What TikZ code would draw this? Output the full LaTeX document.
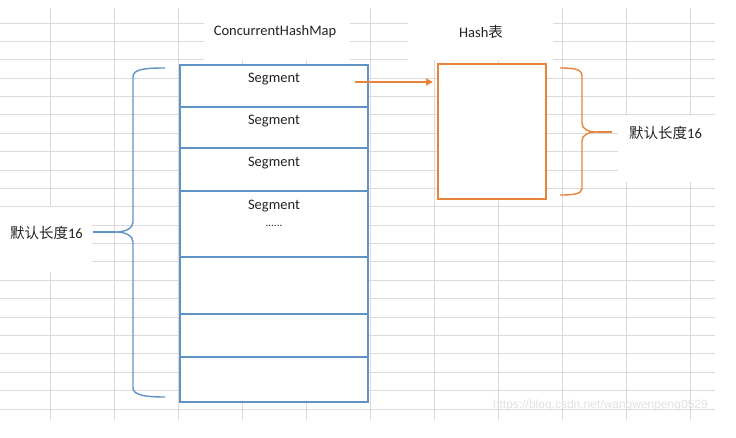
\documentclass[tikz,border=0pt]{standalone}
\usepackage{fontspec}
\setmainfont{Carlito}
\newfontfamily\cjk{Noto Sans CJK SC}
\newfontfamily\wmfont{Liberation Sans}
\usetikzlibrary{arrows.meta}
\definecolor{gridc}{RGB}{218,218,218}
\definecolor{boxblue}{RGB}{96,146,198}
\definecolor{orng}{RGB}{232,131,60}
\definecolor{txt}{RGB}{35,35,35}
\definecolor{wm}{RGB}{226,226,226}
\tikzset{
  cell/.style={draw=boxblue, line width=1.4pt, fill=white, minimum width=188pt, inner sep=0pt, outer sep=0pt},
  hashbox/.style={draw=orng, line width=1.4pt, fill=white, minimum width=108pt, minimum height=135pt, inner sep=0pt, outer sep=0pt},
  lbl/.style={text=txt, font=\fontsize{14.5}{16}\selectfont, inner sep=0pt},
  patch/.style={fill=white, draw=none},
  bluebrace/.style={draw=boxblue, line width=1.4pt},
  orangebrace/.style={draw=orng, line width=1.4pt},
  link/.style={draw=orng, line width=1.4pt, -{Triangle[length=7pt,width=7pt]}}
}
\begin{document}
\begin{tikzpicture}[x=1pt,y=-1pt]
\useasboundingbox[fill=white] (0,0) rectangle (736,437);
% spreadsheet grid
\foreach \k in {0,...,21} {
  \draw[gridc, line width=0.9pt] (0,{23+18.38*\k}) -- (715,{23+18.38*\k});
}
\foreach \k in {0,...,10} {
  \draw[gridc, line width=0.9pt] ({50+64*\k},8) -- ({50+64*\k},420);
}
% white patches behind labels
\fill[patch] (204,8) rectangle (350,60);
\fill[patch] (408,8) rectangle (553,60);
\fill[patch] (618,116) rectangle (716,182);
\fill[patch] (0,207) rectangle (92,272);
% titles
\node[lbl] (title1) at (275,32) {ConcurrentHashMap};
\node[lbl] (title2) at (481,32) {Hash{\cjk 表}};
% segment column
\node[cell, minimum height=42pt] (r1) at (274,86) {};
\node[cell, minimum height=41pt] (r2) at (274,127.5) {};
\node[cell, minimum height=43pt] (r3) at (274,169.5) {};
\node[cell, minimum height=66pt] (r4) at (274,224) {};
\node[cell, minimum height=57pt] (r5) at (274,285.5) {};
\node[cell, minimum height=43pt] (r6) at (274,335.5) {};
\node[cell, minimum height=45pt] (r7) at (274,379.5) {};
\node[lbl] (s1) at (274,79) {Segment};
\node[lbl] (s2) at (274,121) {Segment};
\node[lbl] (s3) at (274,163) {Segment};
\node[lbl] (s4) at (274,206) {Segment};
\node[lbl, font=\fontsize{11}{12}\selectfont] (dots) at (274,226) {......};
% hash table
\node[hashbox] (hash) at (492,131.5) {};
% arrow from first segment to hash table
\coordinate (a0) at (355,82);
\draw[link, shorten >=5pt] (a0) -- (hash.west |- a0);
% left label and brace
\node[lbl, anchor=east] (len1) at (83,233) {{\cjk 默认长度}16};
\coordinate (bt) at (93,232);
\draw[bluebrace] (165,68) .. controls (145,68) and (133,69) .. (133,77) -- (133,222)
  .. controls (133,228) and (126,232) .. (116,232)
  .. controls (126,232) and (133,236) .. (133,242) -- (133,388)
  .. controls (133,395) and (145,397) .. (165,397);
\draw[bluebrace] (116,232) -- (bt);
% right label and brace
\node[lbl, anchor=west] (len2) at (629,133) {{\cjk 默认长度}16};
\coordinate (ot) at (612,132);
\draw[orangebrace] (560,68) .. controls (574,68) and (582,69) .. (582,76) -- (582,123)
  .. controls (582,129) and (588,132) .. (597,132)
  .. controls (588,132) and (582,135) .. (582,141) -- (582,188)
  .. controls (582,194) and (574,195) .. (560,195);
\draw[orangebrace] (597,132) -- (ot);
% watermark
\node[text=wm, font=\wmfont\fontsize{12}{14}\selectfont, inner sep=0pt, anchor=east] (wmark) at (708,405) {https://blog.csdn.net/wangwenpeng0529};
\end{tikzpicture}
\end{document}
